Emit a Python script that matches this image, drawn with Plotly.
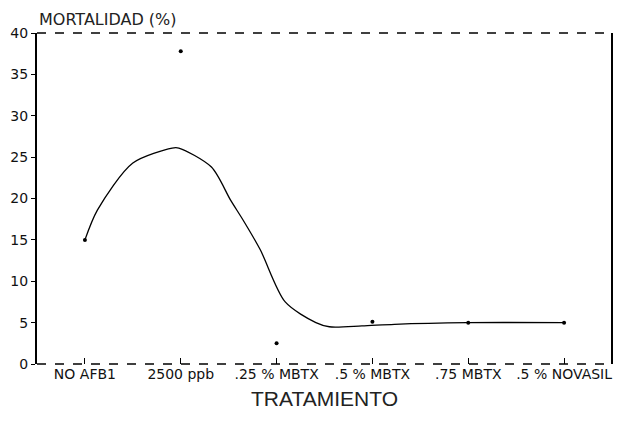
import plotly.graph_objects as go

categories = ["NO AFB1", "2500 ppb", ".25 % MBTX", ".5 % MBTX", ".75 MBTX", ".5 % NOVASIL"]
observed = [15, 37.8, 2.5, 5.1, 5.0, 5.0]
curve_x = [0, 0.13, 0.5, 0.91, 0.98, 1.32, 1.52, 1.65, 1.83, 2.09, 2.41, 2.55, 2.89, 3.23, 3.99, 5.0]
curve_y = [15, 18.6, 24.3, 26.1, 26.1, 23.8, 19.8, 17.4, 13.8, 7.5, 5.0, 4.5, 4.6, 4.8, 5.0, 5.0]
y_ticks = [0, 5, 10, 15, 20, 25, 30, 35, 40]

fig = go.Figure()
fig.add_trace(go.Scatter(x=curve_x, y=curve_y, mode="lines",
                         line=dict(color="black", width=1.3, shape="spline", smoothing=0.8),
                         hoverinfo="skip", showlegend=False))
fig.add_trace(go.Scatter(x=list(range(len(categories))), y=observed, mode="markers",
                         marker=dict(color="black", size=4), showlegend=False))

font = "DejaVu Sans, sans-serif"
# page body has an 8px default margin, so the figure is sized to fit the window without clipping
fig.update_layout(
    width=606, height=407,
    margin=dict(l=27, r=2, t=25, b=51),
    paper_bgcolor="white", plot_bgcolor="white",
    font=dict(family=font, color="black", size=14),
    xaxis=dict(range=[-0.5, 5.5], tickvals=list(range(len(categories))), ticktext=categories,
               ticks="inside", ticklen=6, tickcolor="black", showgrid=False, zeroline=False,
               showline=False, tickfont=dict(size=14, color="#111"),
               title=dict(text="TRATAMIENTO", font=dict(family="Liberation Sans, Arial, sans-serif",
                                                        size=21, color="#222"), standoff=10)),
    yaxis=dict(range=[0, 40], tickvals=y_ticks, ticks="outside", ticklen=4, tickcolor="black",
               showgrid=False, zeroline=False, showline=True, linecolor="black", linewidth=2,
               tickfont=dict(size=14, color="#111")),
    shapes=[
        dict(type="line", xref="paper", yref="paper", x0=0, x1=1, y0=1, y1=1,
             line=dict(color="black", width=1.5, dash="dash")),
        dict(type="line", xref="paper", yref="paper", x0=0, x1=1, y0=0, y1=0,
             line=dict(color="black", width=1.5, dash="dash")),
        dict(type="line", xref="paper", yref="paper", x0=1, x1=1, y0=0, y1=1,
             line=dict(color="black", width=2)),
    ],
    annotations=[dict(text="MORTALIDAD (%)", xref="paper", yref="paper", x=0, y=1,
                      xanchor="left", yanchor="bottom", yshift=2, showarrow=False,
                      font=dict(size=16, color="#222"))],
)
fig.write_html("out.html")
